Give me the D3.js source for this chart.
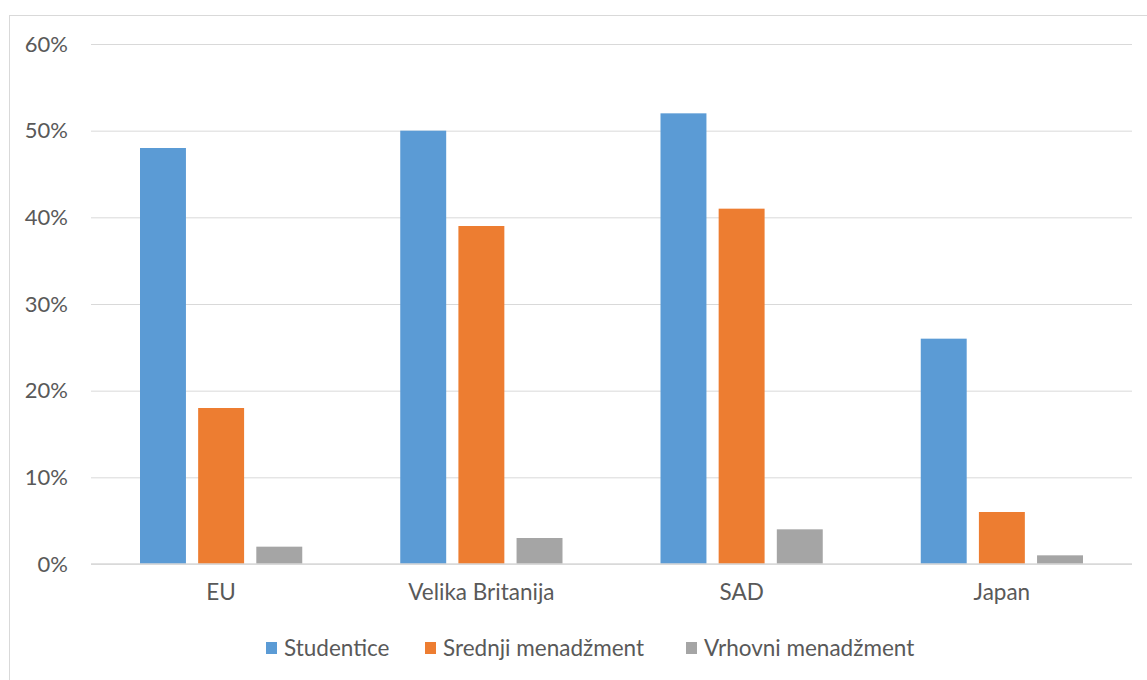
<!DOCTYPE html>
<html>
<head>
<meta charset="utf-8">
<script src="https://cdn.jsdelivr.net/npm/d3@7"></script>
<style>
  body { margin: 0; background: #fff; }
  text { font-family: Lato, "Open Sans", sans-serif; fill: #595959; }
</style>
</head>
<body>
<svg id="chart"></svg>
<script>
// data
const categories = ["EU", "Velika Britanija", "SAD", "Japan"];
const seriesNames = ["Studentice", "Srednji menadžment", "Vrhovni menadžment"];
const studentice = [0.48, 0.50, 0.52, 0.26];
const srednji = [0.18, 0.39, 0.41, 0.06];
const vrhovni = [0.02, 0.03, 0.04, 0.01];
const yTicks = [0, 0.1, 0.2, 0.3, 0.4, 0.5, 0.6];
const colors = ["#5b9bd5", "#ed7d31", "#a5a5a5"];

function getConfig() {
    let width = 1147;
    let height = 680;
    let margin = { top: 44, bottom: 116, left: 91, right: 15 };
    let bodyWidth = width - margin.left - margin.right;
    let bodyHeight = height - margin.top - margin.bottom;
    let container = d3.select("#chart").attr("width", width).attr("height", height);
    return { width, height, margin, bodyWidth, bodyHeight, container };
}

function getScales(config) {
    let { bodyWidth, bodyHeight } = config;
    let xScale = d3.scaleBand()
        .domain(categories)
        .range([0, bodyWidth])
        .paddingInner(0)
        .paddingOuter(0);
    let inner = d3.scaleBand()
        .domain(seriesNames)
        .range([49, xScale.bandwidth() - 49])
        .paddingInner(0.21);
    let yScale = d3.scaleLinear()
        .domain([0, 0.6])
        .range([bodyHeight, 0]);
    return { xScale, inner, yScale };
}

function drawChart() {
    let config = getConfig();
    let { container, margin, bodyWidth, bodyHeight } = config;
    let { xScale, inner, yScale } = getScales(config);

    // outer chart border
    container.append("rect")
        .attr("x", 9.5).attr("y", 15.5)
        .attr("width", 1160).attr("height", 700)
        .attr("fill", "none").attr("stroke", "#d9d9d9");

    let body = container.append("g")
        .attr("transform", `translate(${margin.left},${margin.top})`);

    // gridlines + y labels
    let axisY = d3.axisLeft(yScale)
        .tickValues(yTicks)
        .tickFormat(d3.format(".0%"))
        .tickSize(-bodyWidth)
        .tickPadding(23);
    let gy = body.append("g").call(axisY);
    gy.select(".domain").remove();
    gy.selectAll(".tick line").attr("stroke", "#d9d9d9").attr("stroke-width", 1);
    gy.selectAll(".tick text")
        .style("font-family", "Lato, 'Open Sans', sans-serif")
        .style("font-size", "22px").attr("fill", "#595959");

    // bars
    let rows = categories.map((c, i) => ({
        cat: c,
        values: [studentice[i], srednji[i], vrhovni[i]]
    }));
    let groups = body.selectAll(".cat")
        .data(rows)
        .enter().append("g")
        .attr("transform", d => `translate(${xScale(d.cat)},0)`);
    groups.selectAll("rect")
        .data(d => d.values.map((v, j) => ({ name: seriesNames[j], v, j })))
        .enter().append("rect")
        .attr("x", d => inner(d.name))
        .attr("width", inner.bandwidth())
        .attr("y", d => yScale(d.v))
        .attr("height", d => yScale(0) - yScale(d.v))
        .attr("fill", d => colors[d.j]);

    // baseline
    body.append("line")
        .attr("x1", 0).attr("x2", bodyWidth)
        .attr("y1", yScale(0)).attr("y2", yScale(0))
        .attr("stroke", "#d9d9d9").attr("stroke-width", 1.5);

    // x labels
    let axisX = d3.axisBottom(xScale).tickSize(0).tickPadding(20);
    let gx = body.append("g")
        .attr("transform", `translate(0,${bodyHeight})`)
        .call(axisX);
    gx.select(".domain").remove();
    gx.selectAll(".tick text")
        .style("font-family", "Lato, 'Open Sans', sans-serif")
        .style("font-size", "22.5px").attr("fill", "#595959");

    // legend
    let legendX = [266, 425, 686];
    let legend = container.append("g");
    seriesNames.forEach((name, j) => {
        legend.append("rect")
            .attr("x", legendX[j]).attr("y", 642)
            .attr("width", 11).attr("height", 12)
            .attr("fill", colors[j]);
        legend.append("text")
            .attr("x", legendX[j] + 18).attr("y", 648)
            .attr("dy", "0.35em")
            .style("font-size", "22.5px")
            .text(name);
    });
}

drawChart();
</script>
</body>
</html>
